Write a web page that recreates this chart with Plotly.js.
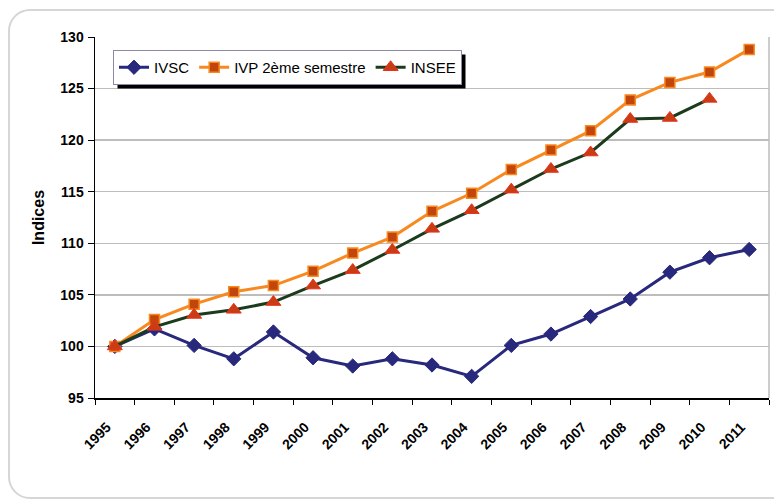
<!DOCTYPE html>
<html><head><meta charset="utf-8">
<script src="https://cdn.plot.ly/plotly-3.0.1.min.js"></script>
<style>
html,body{margin:0;padding:0;background:#fff;}
#wrap{position:relative;width:774px;height:500px;overflow:hidden;}
#chart{position:absolute;left:0;top:0;width:774px;height:500px;}
#frame{position:absolute;left:8px;top:9px;width:800px;height:486px;border:2px solid #d6d6d6;border-radius:22px;pointer-events:none;}
</style></head>
<body><div id="wrap"><div id="chart"></div><div id="frame"></div></div>
<script>
const years = ["1995","1996","1997","1998","1999","2000","2001","2002","2003","2004","2005","2006","2007","2008","2009","2010","2011"];
const ivsc  = [100, 101.7, 100.1, 98.8, 101.4, 98.9, 98.1, 98.8, 98.2, 97.1, 100.1, 101.2, 102.9, 104.6, 107.2, 108.6, 109.4];
const ivp   = [100, 102.6, 104.1, 105.3, 105.9, 107.3, 109.05, 110.6, 113.1, 114.85, 117.15, 119.05, 120.9, 123.9, 125.6, 126.6, 128.8];
const insee = [100, 101.9, 103.05, 103.55, 104.3, 105.9, 107.4, 109.35, 111.4, 113.2, 115.2, 117.2, 118.8, 122.05, 122.15, 124.0, null];
const names = ["IVSC", "IVP 2ème semestre", "INSEE"];

const FONT = 'Liberation Sans, Arial, sans-serif';
const traces = [
  {x: years, y: ivsc, name: names[0], type: 'scatter', mode: 'lines+markers',
   line: {color: '#28287c', width: 3},
   marker: {symbol: 'diamond', size: 11, color: '#28287c', line: {color: '#28287c', width: 1}}},
  {x: years, y: ivp, name: names[1], type: 'scatter', mode: 'lines+markers',
   line: {color: '#f7891f', width: 3},
   marker: {symbol: 'square', size: 10, color: '#c2460c', line: {color: '#f7891f', width: 1.5}}},
  {x: years, y: insee, name: names[2], type: 'scatter', mode: 'lines+markers',
   line: {color: '#1c3b1c', width: 3},
   marker: {symbol: 'triangle-up', size: 13, color: '#c93c14', line: {color: '#e8331c', width: 1}}}
];

const L = 95, R = 769, T = 37, B = 398;
const W = R - L, H = B - T;
function px(x){return (x - L) / W;}
function py(y){return (B - y) / H;}

const layout = {
  width: 774, height: 500,
  margin: {l: L, r: 774 - R, t: T, b: 500 - B, pad: 0},
  paper_bgcolor: '#ffffff', plot_bgcolor: '#ffffff',
  font: {family: FONT, size: 14, color: '#000'},
  showlegend: true,
  legend: {orientation: 'h', x: px(113), y: py(50), xanchor: 'left', yanchor: 'top',
    bgcolor: '#ffffff', bordercolor: '#8a8aa8', borderwidth: 1,
    font: {family: FONT, size: 15, color: '#000'},
    itemwidth: 30, tracegroupgap: 0},
  xaxis: {type: 'category', tickson: 'boundaries', ticks: 'outside', ticklen: 5, tickwidth: 1,
    tickcolor: '#000', showline: true, linecolor: '#000', linewidth: 1.5,
    showgrid: false, zeroline: false, tickangle: -45, ticklabelshift: -8, ticklabelstandoff: 14,
    range: [-0.5, 16.5],
    tickfont: {family: FONT, size: 14, color: '#000', weight: 'bold'}},
  yaxis: {range: [95, 130], dtick: 5, ticks: 'outside', ticklen: 6, tickwidth: 1, tickcolor: '#000',
    showline: true, linecolor: '#000', linewidth: 1.5, showgrid: true, gridcolor: '#bdbdbd', gridwidth: 1.5,
    zeroline: false, ticklabelstandoff: 1,
    tickfont: {family: FONT, size: 14, color: '#000', weight: 'bold'},
    title: {text: 'Indices', standoff: 11, font: {family: FONT, size: 16, color: '#000', weight: 'bold'}}},
  shapes: [
    {type: 'line', xref: 'paper', yref: 'paper', x0: 1, x1: 1, y0: 0, y1: 1, line: {color: '#bdbdbd', width: 1.5}, layer: 'below'},
    {type: 'rect', xref: 'paper', yref: 'paper', x0: px(117), x1: px(477), y0: py(83), y1: py(54),
     fillcolor: '#000', line: {width: 0}, layer: 'above'}
  ]
};
Plotly.newPlot('chart', traces, layout, {displayModeBar: false, staticPlot: true}).then(function(gd){
  const bg = gd.querySelector('.legend .bg');
  if (!bg) return;
  const r = bg.getBoundingClientRect();
  const c = gd.getBoundingClientRect();
  const x0 = r.left - c.left + 4, x1 = r.right - c.left + 4;
  const y0 = r.top - c.top + 4, y1 = r.bottom - c.top + 4;
  return Plotly.relayout(gd, {
    'shapes[1].x0': px(x0), 'shapes[1].x1': px(x1),
    'shapes[1].y0': py(y1), 'shapes[1].y1': py(y0)
  });
});
</script></body></html>
